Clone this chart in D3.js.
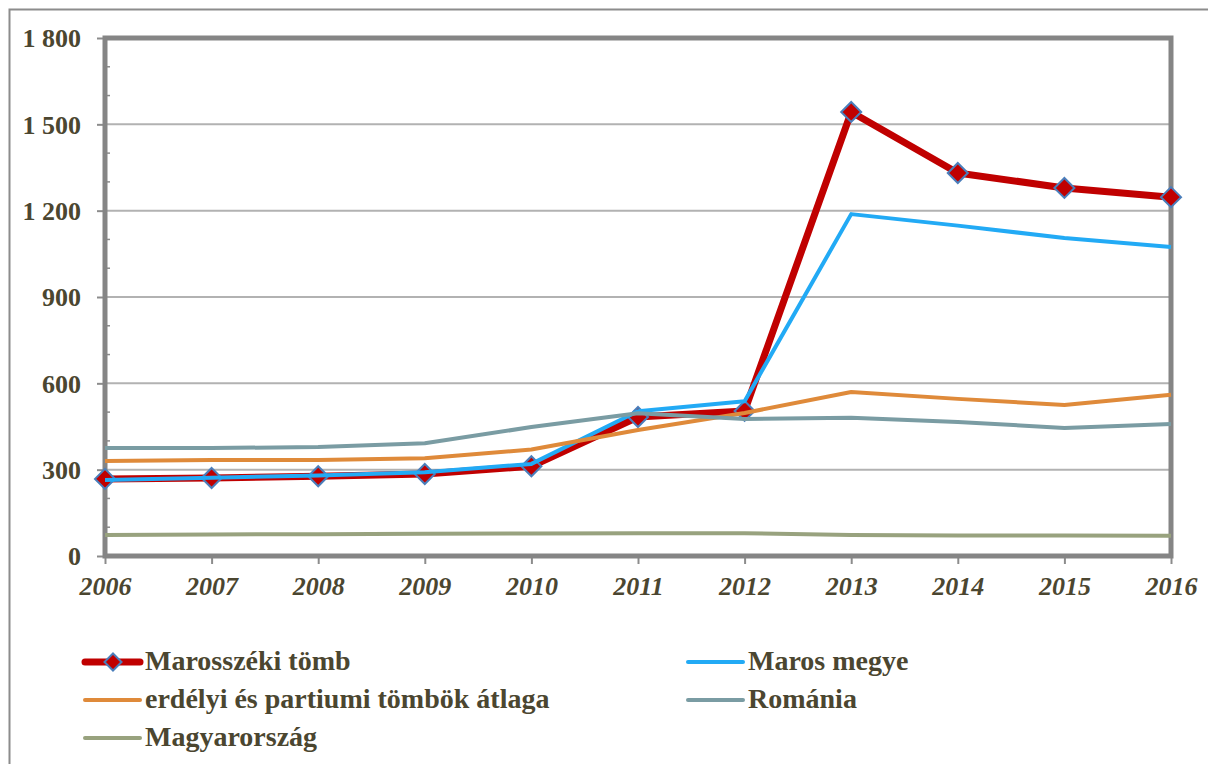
<!DOCTYPE html>
<html>
<head>
<meta charset="utf-8">
<script src="https://cdn.jsdelivr.net/npm/d3@7"></script>
<style>
  body { margin: 0; background: #fff; }
</style>
</head>
<body>
<script>
var years = [2006, 2007, 2008, 2009, 2010, 2011, 2012, 2013, 2014, 2015, 2016];
var yTicks = [0, 300, 600, 900, 1200, 1500, 1800];

var marosszek = [268, 271, 277, 285, 312, 483, 504, 1543, 1331, 1279, 1247];
var marosMegye = [264, 272, 280, 291, 320, 503, 538, 1188, 1148, 1105, 1074];
var erdelyi = [330, 334, 334, 340, 370, 438, 497, 570, 546, 525, 560];
var romania = [375, 375, 379, 392, 448, 496, 476, 480, 466, 445, 459];
var magyar = [73, 75, 76, 77, 78, 79, 79, 73, 71, 71, 70];

var series = [
  { name: 'Marosszéki tömb', values: marosszek, color: '#c00000', width: 7, marker: true },
  { name: 'Maros megye', values: marosMegye, color: '#22aaf5', width: 4 },
  { name: 'erdélyi és partiumi tömbök átlaga', values: erdelyi, color: '#df8a3a', width: 4 },
  { name: 'Románia', values: romania, color: '#7a9ca3', width: 4 },
  { name: 'Magyarország', values: magyar, color: '#98a27e', width: 4 }
];

var FONT = "'Liberation Serif'";
var TEXT_COLOR = '#4b4630';

var width = 1208, height = 764,
  margin = { left: 105, right: 37, top: 38, bottom: 208 };

var svg = d3.select('body').append('svg')
  .attr('width', width)
  .attr('height', height);

// outer chart border
svg.append('rect')
  .attr('x', 9.5).attr('y', 9.5)
  .attr('width', width + 20).attr('height', height + 20)
  .attr('fill', 'none').attr('stroke', '#8c8c8c').attr('stroke-width', 2);

var x = d3.scaleLinear()
  .domain([years[0], years[years.length - 1]])
  .range([margin.left, width - margin.right]);

var y = d3.scaleLinear()
  .domain([0, 1800])
  .range([height - margin.bottom, margin.top]);

// gridlines
svg.append('g')
  .selectAll('line')
  .data(yTicks.slice(1, -1))
  .enter().append('line')
  .attr('x1', x.range()[0]).attr('x2', x.range()[1])
  .attr('y1', function (d) { return y(d); })
  .attr('y2', function (d) { return y(d); })
  .attr('stroke', '#b2b2b2').attr('stroke-width', 2);

// minor ticks (inside)
svg.append('g')
  .selectAll('line')
  .data(d3.range(100, 1800, 100).filter(function (d) { return d % 300 !== 0; }))
  .enter().append('line')
  .attr('x1', x.range()[0]).attr('x2', x.range()[0] + 5)
  .attr('y1', function (d) { return y(d); })
  .attr('y2', function (d) { return y(d); })
  .attr('stroke', '#8c8c8c').attr('stroke-width', 1.5);

// y axis
var yAxis = svg.append('g')
  .attr('transform', 'translate(' + x.range()[0] + ',0)')
  .call(d3.axisLeft(y).tickValues(yTicks).tickSize(8).tickPadding(16)
    .tickFormat(function (d) { return d3.format(',')(d).replace(',', ' '); }));
yAxis.attr('font-family', null).attr('font-size', null);
yAxis.select('.domain').remove();
yAxis.selectAll('.tick line').attr('stroke', '#8c8c8c').attr('stroke-width', 2);
yAxis.selectAll('text')
  .style('font-family', FONT).style('font-weight', 'bold').style('font-size', '26px')
  .attr('fill', TEXT_COLOR).attr('dy', '0.34em');

// x axis
var xAxis = svg.append('g')
  .attr('transform', 'translate(0,' + y(0) + ')')
  .call(d3.axisBottom(x).tickValues(years).tickSize(8).tickPadding(13).tickFormat(d3.format('d')));
xAxis.attr('font-family', null).attr('font-size', null);
xAxis.select('.domain').remove();
xAxis.selectAll('.tick line').attr('stroke', '#8c8c8c').attr('stroke-width', 2);
xAxis.selectAll('text')
  .style('font-family', FONT).style('font-weight', 'bold').style('font-style', 'italic')
  .style('font-size', '26px').attr('fill', TEXT_COLOR);

// plot frame
svg.append('rect')
  .attr('x', x.range()[0]).attr('y', y(1800))
  .attr('width', x.range()[1] - x.range()[0])
  .attr('height', y(0) - y(1800))
  .attr('fill', 'none').attr('stroke', '#858585').attr('stroke-width', 5);

var line = d3.line()
  .x(function (d, i) { return x(years[i]); })
  .y(function (d) { return y(d); });

series.forEach(function (s) {
  svg.append('path')
    .datum(s.values)
    .attr('d', line)
    .attr('fill', 'none')
    .attr('stroke', s.color)
    .attr('stroke-width', s.width)
    .attr('stroke-linejoin', 'round');

  if (s.marker) {
    svg.append('g')
      .selectAll('path')
      .data(s.values)
      .enter().append('path')
      .attr('d', 'M0,-10L10,0L0,10L-10,0Z')
      .attr('transform', function (d, i) { return 'translate(' + x(years[i]) + ',' + y(d) + ')'; })
      .attr('fill', s.color)
      .attr('stroke', '#4a7ebb')
      .attr('stroke-width', 2);
  }
});

// legend
var legendPos = [
  { x: 85, y: 662 }, { x: 688, y: 662 },
  { x: 85, y: 700 }, { x: 688, y: 700 },
  { x: 85, y: 738 }
];

var legend = svg.append('g')
  .selectAll('g')
  .data(series)
  .enter().append('g')
  .attr('transform', function (d, i) { return 'translate(' + legendPos[i].x + ',' + legendPos[i].y + ')'; });

legend.append('line')
  .attr('x1', 0).attr('x2', 55)
  .attr('stroke', function (d) { return d.color; })
  .attr('stroke-width', function (d) { return d.width; })
  .attr('stroke-linecap', 'round');

legend.filter(function (d) { return d.marker; })
  .append('path')
  .attr('d', 'M0,-8.5L8.5,0L0,8.5L-8.5,0Z')
  .attr('transform', 'translate(28,0)')
  .attr('fill', function (d) { return d.color; })
  .attr('stroke', '#4a7ebb')
  .attr('stroke-width', 2);

legend.append('text')
  .attr('x', 60)
  .attr('dy', '0.27em')
  .style('font-family', FONT).style('font-weight', 'bold').style('font-size', '28px')
  .attr('fill', TEXT_COLOR)
  .text(function (d) { return d.name; });
</script>
</body>
</html>
